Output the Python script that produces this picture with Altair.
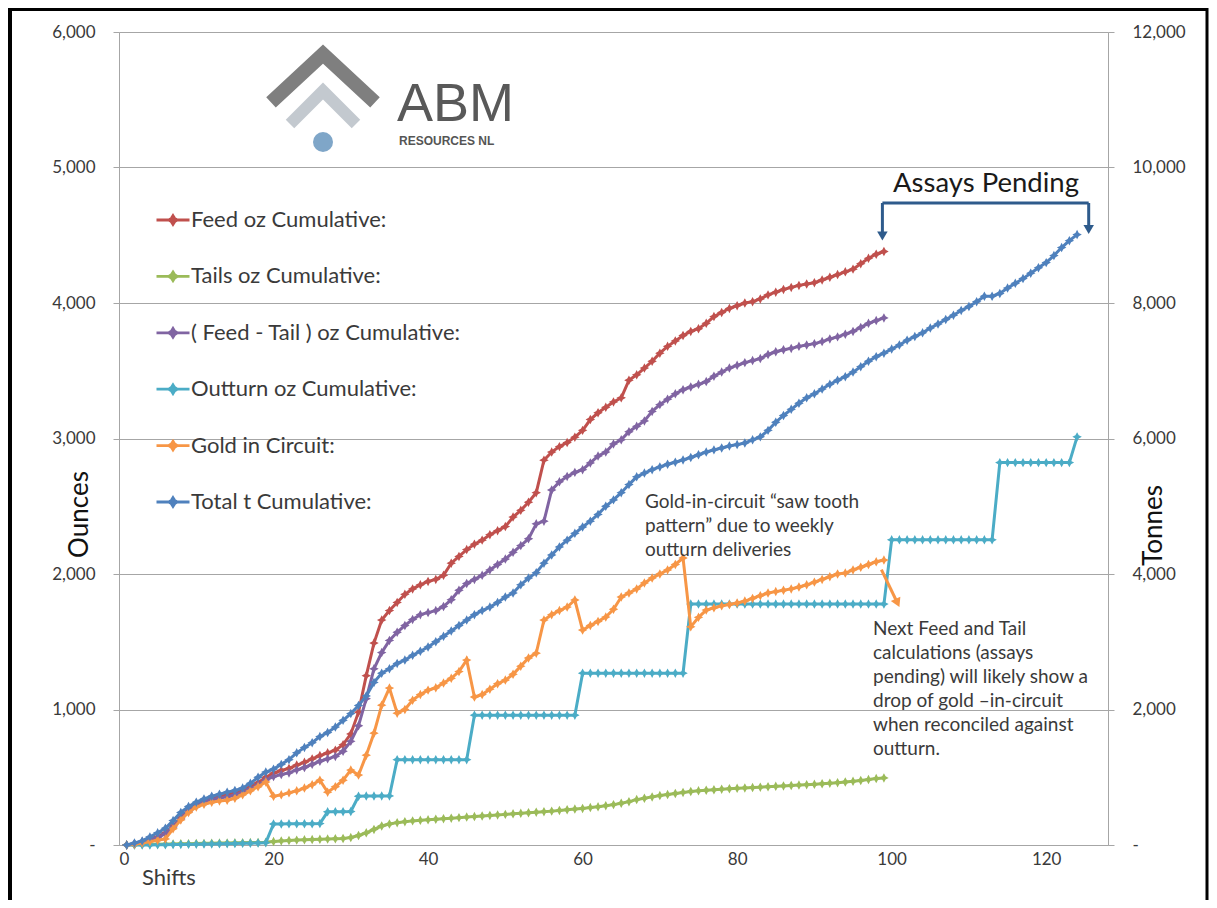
import altair as alt
import pandas as pd

# ---------------- data ----------------
series_names = [
    "Feed oz Cumulative:",
    "Tails oz Cumulative:",
    "( Feed - Tail ) oz Cumulative:",
    "Outturn oz Cumulative:",
    "Gold in Circuit:",
    "Total t Cumulative:",
]
series_colors = ["#C0504D", "#9BBB59", "#8064A2", "#4BACC6", "#F79646", "#4F81BD"]

shifts_assayed = list(range(1, 100))   # feed / tails / gold-in-circuit shifts
shifts_all = list(range(1, 125))       # outturn / tonnes shifts

feed_oz = [
    0, 10, 25, 40, 60, 90, 140, 200, 260, 300,
    330, 345, 360, 370, 385, 405, 430, 460, 500, 530,
    550, 565, 590, 610, 635, 660, 680, 700, 740, 820,
    980, 1250, 1490, 1660, 1730, 1790, 1850, 1890, 1920, 1945,
    1960, 1990, 2080, 2130, 2180, 2220, 2250, 2290, 2320, 2350,
    2420, 2470, 2530, 2600, 2840, 2900, 2940, 2970, 3010, 3060,
    3140, 3190, 3230, 3270, 3300, 3430, 3470, 3520, 3570, 3630,
    3680, 3720, 3760, 3790, 3810, 3850, 3900, 3930, 3960, 3980,
    4000, 4010, 4030, 4060, 4080, 4100, 4115, 4130, 4140, 4150,
    4170, 4190, 4210, 4230, 4250, 4290, 4330, 4360, 4380,
]
tails_oz = [
    0, 2, 4, 5, 6, 7, 8, 9, 10, 11,
    12, 13, 14, 15, 16, 17, 18, 19, 20, 25,
    30, 33, 36, 38, 40, 42, 44, 46, 48, 55,
    70, 90, 115, 140, 155, 165, 172, 178, 182, 186,
    190, 194, 198, 202, 206, 210, 214, 218, 222, 226,
    230, 234, 238, 242, 246, 250, 255, 260, 265, 270,
    276, 282, 290, 298, 308, 320, 335, 345, 355, 365,
    372, 380, 388, 395, 400, 404, 408, 412, 415, 418,
    421, 424, 427, 430, 433, 436, 439, 442, 445, 448,
    452, 456, 460, 465, 470, 476, 483, 490, 495,
]
feed_minus_tail_oz = [
    0, 8, 21, 35, 54, 83, 132, 191, 250, 289,
    318, 332, 346, 355, 369, 388, 412, 441, 480, 505,
    520, 532, 554, 572, 595, 618, 636, 654, 692, 765,
    880, 1080, 1300, 1420, 1510, 1570, 1620, 1665, 1700, 1715,
    1730, 1760, 1810, 1880, 1930, 1960, 1990, 2030, 2070, 2110,
    2160, 2210, 2260, 2370, 2390, 2620, 2680, 2720, 2750, 2770,
    2820, 2870, 2900, 2960, 2990, 3050, 3090, 3130, 3200, 3250,
    3290, 3330, 3360, 3380, 3400, 3420, 3460, 3490, 3520, 3540,
    3560, 3575, 3590, 3620, 3640, 3655, 3665, 3680, 3690, 3700,
    3715, 3735, 3750, 3770, 3790, 3820, 3850, 3870, 3890,
]
gold_in_circuit_oz = [
    0, 5, 15, 25, 35, 45, 120, 185, 240, 280,
    300, 315, 325, 330, 345, 370, 400, 430, 465, 360,
    370, 385, 400, 420, 445, 478, 390, 430, 478, 553,
    516, 663, 825, 1032, 1158, 973, 1000, 1069, 1110, 1143,
    1160, 1195, 1230, 1280, 1365, 1092, 1110, 1150, 1190, 1217,
    1260, 1320, 1380, 1416, 1660, 1700, 1730, 1756, 1808, 1586,
    1620, 1650, 1682, 1740, 1830, 1860, 1890, 1934, 1970, 2000,
    2030, 2070, 2118, 1610, 1680, 1734, 1750, 1765, 1775, 1786,
    1800, 1820, 1840, 1860, 1870, 1880, 1890, 1904, 1920, 1940,
    1960, 1980, 2000, 2007, 2030, 2050, 2070, 2090, 2103,
]
outturn_oz = [
    0, 0, 0, 0, 1, 2, 3, 4, 5, 6, 7, 8, 9, 10, 11, 12, 13, 15, 17,
    155, 155, 156, 156, 157, 157, 158,
    245, 246, 246, 247,
    360, 361, 361, 362, 362,
    630, 630, 630, 630, 630, 630, 630, 630, 630, 630,
    958, 958, 958, 958, 958, 958, 958, 958, 958, 958, 958, 958, 958, 958,
    1268, 1268, 1268, 1268, 1268, 1268, 1268, 1268, 1268, 1268, 1268, 1268, 1268, 1268,
    1778, 1778, 1778, 1778, 1778, 1778, 1778, 1778, 1778, 1778, 1778, 1778, 1778,
    1778, 1778, 1778, 1778, 1778, 1778, 1778, 1778, 1778, 1778, 1778, 1778, 1778,
    2252, 2252, 2252, 2252, 2252, 2252, 2252, 2252, 2252, 2252, 2252, 2252, 2252, 2252,
    2822, 2822, 2822, 2822, 2822, 2822, 2822, 2822, 2822, 2822,
    3012,
]
total_t = [
    0, 30, 60, 120, 180, 248, 360, 480, 570, 632,
    680, 720, 750, 780, 804, 840, 910, 1000, 1076, 1120,
    1190, 1260, 1360, 1440, 1510, 1600, 1660, 1740, 1840, 1940,
    2060, 2200, 2400, 2536, 2600, 2680, 2730, 2800, 2860, 2922,
    3000, 3080, 3160, 3240, 3320, 3400, 3460, 3512, 3580, 3660,
    3720, 3840, 3940, 4020, 4160, 4280, 4400, 4500, 4600, 4694,
    4780, 4880, 5000, 5094, 5200, 5320, 5434, 5490, 5540, 5580,
    5620, 5650, 5684, 5720, 5760, 5800, 5832, 5860, 5890, 5910,
    5934, 5980, 6024, 6120, 6240, 6340, 6430, 6520, 6600, 6660,
    6730, 6800, 6860, 6912, 6980, 7060, 7140, 7208, 7260, 7320,
    7380, 7450, 7504, 7560, 7630, 7690, 7756, 7820, 7890, 7948,
    8020, 8100, 8100, 8140, 8220, 8290, 8360, 8440, 8520, 8596,
    8700, 8818, 8920, 9010,
]

oz_y_ticks = [0, 1000, 2000, 3000, 4000, 5000, 6000]
t_y_ticks = [0, 2000, 4000, 6000, 8000, 10000, 12000]
x_ticks = [0, 20, 40, 60, 80, 100, 120]

gic_note = ["Gold-in-circuit \u201csaw tooth", "pattern\u201d due to weekly", "outturn  deliveries"]
next_note = ["Next Feed and Tail", "calculations (assays", "pending) will likely show a",
             "drop of gold \u2013in-circuit", "when reconciled against", "outturn."]

# ---------------- tables ----------------
def frame(name, xs, ys):
    return pd.DataFrame({"shift": xs, "value": ys, "series": name})

oz_tables = [
    frame(series_names[0], shifts_assayed, feed_oz),
    frame(series_names[1], shifts_assayed, tails_oz),
    frame(series_names[2], shifts_assayed, feed_minus_tail_oz),
    frame(series_names[3], shifts_all, outturn_oz),
    frame(series_names[4], shifts_assayed, gold_in_circuit_oz),
]
t_table = frame(series_names[5], shifts_all, total_t)

# ---------------- styling ----------------
W, H = 989, 813
FONT = "Lato"
GRID = "#a6a6a6"
TXT = "#3a3a3a"
STAR = "M0,-1L0.35,-0.35L1,0L0.35,0.35L0,1L-0.35,0.35L-1,0L-0.35,-0.35Z"
LEG_SYM = "M-1,0L1,0M0,-0.26L0.1,-0.1L0.26,0L0.1,0.1L0,0.26L-0.1,0.1L-0.26,0L-0.1,-0.1Z"

color_enc = alt.Color(
    "series:N",
    scale=alt.Scale(domain=series_names, range=series_colors),
    legend=alt.Legend(
        orient="none", legendX=36, legendY=170, title=None, padding=0,
        labelFont=FONT, labelFontSize=22, labelColor=TXT, labelLimit=500,
        symbolType=LEG_SYM, symbolSize=1089, symbolStrokeWidth=2.8,
        rowPadding=27.4, labelOffset=0,
    ),
)
x_enc = alt.X(
    "shift:Q",
    scale=alt.Scale(domain=[0, 128], nice=False, zero=False),
    axis=alt.Axis(values=x_ticks, title=None, grid=False, ticks=False, format="d",
                  domainColor=GRID, labelFont=FONT, labelFontSize=17, labelColor=TXT,
                  labelPadding=6),
)
zero_dash = "datum.value === 0 ? '-' : format(datum.value, ',')"
y_oz = alt.Y(
    "value:Q",
    scale=alt.Scale(domain=[0, 6000], nice=False),
    axis=alt.Axis(orient="left", values=oz_y_ticks, labelExpr=zero_dash, title="Ounces",
                  grid=True, gridColor=GRID, domainColor=GRID, tickColor=GRID, tickSize=6,
                  labelFont=FONT, labelFontSize=17, labelColor=TXT, labelPadding=18,
                  titleFont=FONT, titleFontSize=26, titleFontWeight="normal", titleColor="#111111",
                  titleAngle=270, titleBaseline="middle", titleX=-40, titleY=482),
)
y_t = alt.Y(
    "value:Q",
    scale=alt.Scale(domain=[0, 12000], nice=False),
    axis=alt.Axis(orient="right", values=t_y_ticks, labelExpr=zero_dash, title="Tonnes",
                  grid=False, domainColor=GRID, tickColor=GRID, tickSize=6,
                  labelFont=FONT, labelFontSize=17, labelColor=TXT, labelPadding=18,
                  titleFont=FONT, titleFontSize=26, titleFontWeight="normal", titleColor="#111111",
                  titleAngle=270, titleBaseline="middle", titleX=45, titleY=493),
)

def series_layer(df, y_enc):
    return alt.Chart(df).mark_line(
        strokeWidth=3,
        point=alt.OverlayMarkDef(shape=STAR, size=90, filled=True, opacity=1),
    ).encode(x=x_enc, y=y_enc, color=color_enc)

oz_layer = alt.layer(*[series_layer(df, y_oz) for df in oz_tables])
t_layer = series_layer(t_table, y_t)

one = pd.DataFrame({"k": [0]})

def rule(x1, y1, x2, y2, color, width):
    return alt.Chart(one).mark_rule(color=color, strokeWidth=width, strokeCap="butt").encode(
        x=alt.value(x1), y=alt.value(y1), x2=alt.value(x2), y2=alt.value(y2))

def text(x, y, txt, size, color=TXT, font=FONT, weight="normal", lh=None):
    kw = dict(align="left", baseline="alphabetic", font=font, fontSize=size,
              color=color, fontWeight=weight, text=txt)
    if lh is not None:
        kw["lineHeight"] = lh
    return alt.Chart(one).mark_text(**kw).encode(x=alt.value(x), y=alt.value(y))

def symbol(x, y, shape, size, color, filled=True, stroke_width=None, angle=0):
    kw = dict(shape=shape, size=size, filled=filled, opacity=1, angle=angle)
    if filled:
        kw["fill"] = color
        kw["strokeWidth"] = 0
    else:
        kw["stroke"] = color
        kw["strokeWidth"] = stroke_width
        kw["strokeJoin"] = "miter"
        kw["strokeCap"] = "butt"
    return alt.Chart(one).mark_point(**kw).encode(x=alt.value(x), y=alt.value(y))

ARROW = "#2E5B8C"
decor = [
    # outer frame
    rule(-109, -23, -109, 870, "#000000", 4),
    rule(-111, -22.5, 1089, -22.5, "#000000", 3),
    rule(1088, -24, 1088, 870, "#000000", 3),
    # logo
    symbol(204, 22, "M-1,0.93L0,0L1,0.93", 10816, "#7f7f7f", filled=False, stroke_width=14),
    symbol(204, 59, "M-1,1L0,0L1,1", 4356, "#c3c9cf", filled=False, stroke_width=12),
    symbol(204, 110, "circle", 400, "#7fa6c8"),
    text(278, 89, "ABM", 54, color="#595959", font="Liberation Sans"),
    text(280, 113, "RESOURCES NL", 12, color="#555555", font="Liberation Sans", weight="bold"),
    # assays pending bracket
    text(774, 160, "Assays Pending", 27.5, color="#1a1a1a"),
    rule(763.4, 171, 969.7, 171, ARROW, 3),
    rule(763.4, 171, 763.4, 202, ARROW, 3),
    rule(969.7, 171, 969.7, 195, ARROW, 3),
    symbol(763.4, 204, "triangle-down", 110, ARROW),
    symbol(969.7, 197.5, "triangle-down", 110, ARROW),
    # gold-in-circuit notes
    text(526, 476, gic_note, 19, lh=24),
    text(754, 603, next_note, 19, lh=24),
    # orange arrow
    rule(762.4, 537.7, 777.5, 569, "#F79646", 3),
    symbol(778.5, 571, "triangle-down", 110, "#F79646", angle=335),
    # x label
    text(23, 853, "Shifts", 22),
]

chart = alt.layer(
    alt.layer(oz_layer, t_layer).resolve_scale(y="independent"),
    *decor,
).properties(
    width=W, height=H,
    autosize=alt.AutoSizeParams(type="none"),
    padding={"left": 111, "top": 24, "right": 101, "bottom": 55},
).configure_view(stroke="transparent").configure(font=FONT)

chart.save("out.html", embed_options={"renderer": "svg", "actions": False})
